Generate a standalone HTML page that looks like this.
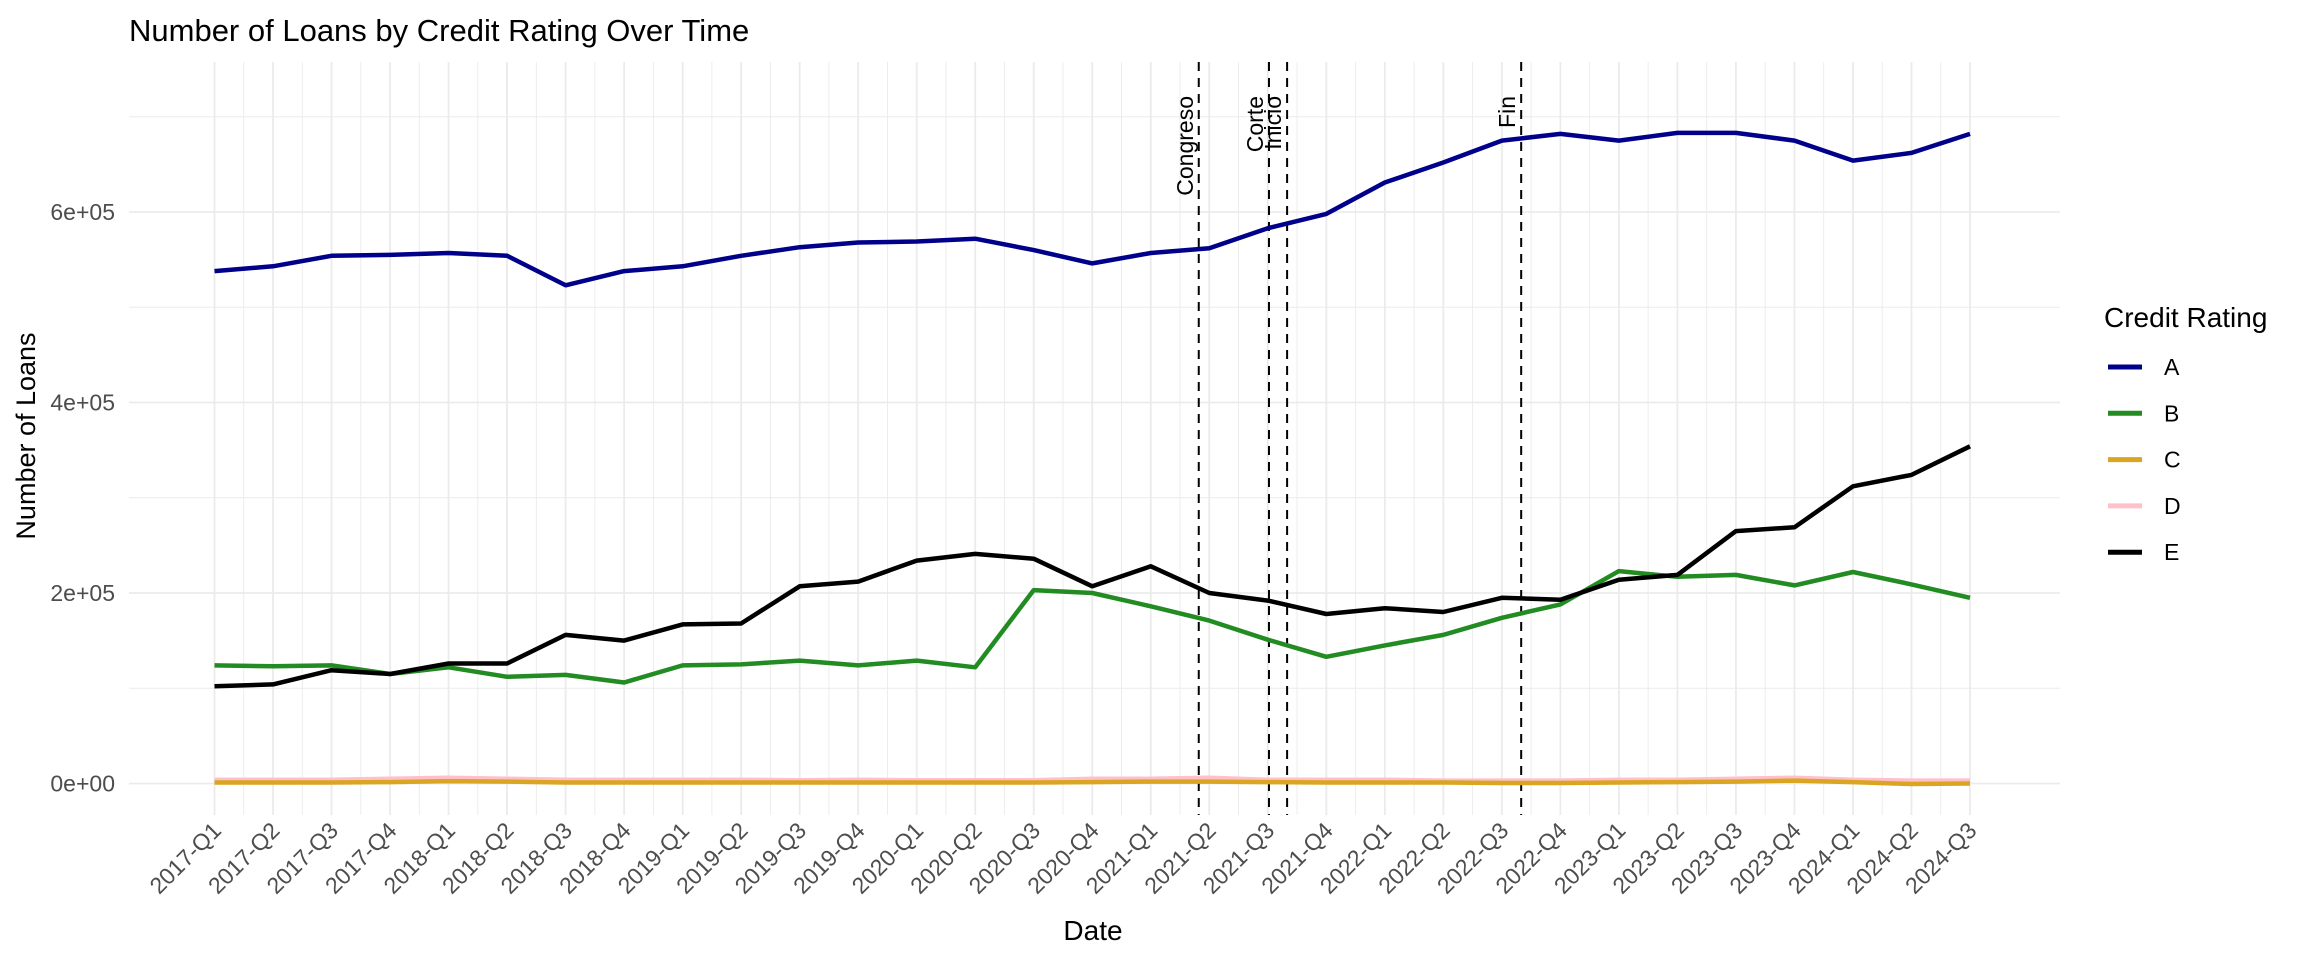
<!DOCTYPE html>
<html><head><meta charset="utf-8"><style>
html,body{margin:0;padding:0;background:#fff}
svg{display:block;font-family:"Liberation Sans",sans-serif}
</style></head><body>
<svg id="chart" width="2304" height="960" viewBox="0 0 2304 960">
<text x="129" y="41" font-size="31" fill="#000">Number of Loans by Credit Rating Over Time</text>
<g id="grid"></g>
<g id="vlines"></g>
<g id="series"></g>
<g id="axes"></g>
<text x="1093" y="940" font-size="28" text-anchor="middle" fill="#000">Date</text>
<text transform="translate(35,436) rotate(-90)" font-size="27" text-anchor="middle" fill="#000">Number of Loans</text>
<g id="legend">
<text x="2104" y="327" font-size="28" fill="#000">Credit Rating</text>
</g>
</svg>
<script>
const categories = ["2017-Q1","2017-Q2","2017-Q3","2017-Q4","2018-Q1","2018-Q2","2018-Q3","2018-Q4","2019-Q1","2019-Q2","2019-Q3","2019-Q4","2020-Q1","2020-Q2","2020-Q3","2020-Q4","2021-Q1","2021-Q2","2021-Q3","2021-Q4","2022-Q1","2022-Q2","2022-Q3","2022-Q4","2023-Q1","2023-Q2","2023-Q3","2023-Q4","2024-Q1","2024-Q2","2024-Q3"];
const seriesA = [538000,543000,554000,555000,557000,554000,523000,538000,543000,554000,563000,568000,569000,572000,560000,546000,557000,562000,583000,598000,631000,652000,675000,682000,675000,683000,683000,675000,654000,662000,682000];
const seriesB = [124000,123000,124000,115000,122000,112000,114000,106000,124000,125000,129000,124000,129000,122000,203000,200000,186000,171000,151000,133000,145000,156000,174000,188000,223000,217000,219000,208000,222000,209000,195000];
const seriesC = [1000,1000,1000,1500,2500,2000,1000,1000,1000,1000,1000,1000,1000,1000,1000,1500,2000,2000,1500,1000,1000,1000,500,500,1000,1500,2000,3000,1500,-500,0];
const seriesD = [4000,4000,4000,5000,6000,5000,4000,4000,4000,4000,3500,4000,3500,3500,3500,5000,5000,6000,4000,4000,4000,3000,3000,3000,4000,4000,5000,6000,4000,3000,3000];
const seriesE = [102000,104000,119000,115000,126000,126000,156000,150000,167000,168000,207000,212000,234000,241000,236000,207000,228000,200000,192000,178000,184000,180000,195000,193000,214000,219000,265000,269000,312000,324000,354000];
const yTicks = [0,200000,400000,600000];
const yTickLabels = ["0e+00","2e+05","4e+05","6e+05"];
const yMinor = [100000,300000,500000,700000];
const eventNames = ["Congreso","Corte","Inicio","Fin"];
const eventPos = [16.82,18.02,18.33,22.33];
const seriesNames = ["A","B","C","D","E"];

const colors = ["#00008B","#228B22","#DAA520","#FFC0CB","#000000"];
const NS = "http://www.w3.org/2000/svg";
const PL = 129, PR = 2060, PT = 62, PB = 815;
function xs(i){ return 214.5 + i * (1970 - 214.5) / 30; }
function ys(v){ return 783.5 - v * 190.5 / 200000; }
function mk(tag, attrs, parent){ const e = document.createElementNS(NS, tag); for (const k in attrs) e.setAttribute(k, attrs[k]); parent.appendChild(e); return e; }

const grid = document.getElementById("grid");
yMinor.forEach(v => {
  const l = mk("line", {x1:PL, x2:PR, y1:ys(v), y2:ys(v), stroke:"#ebebeb", "stroke-width":0.9}, grid);
  
  
});
for (let i = 0; i < categories.length - 1; i++) {
  const l = mk("line", {x1:xs(i+0.5), x2:xs(i+0.5), y1:PT, y2:PB, stroke:"#ebebeb", "stroke-width":0.9}, grid);
  
  
}
yTicks.forEach(v => {
  const l = mk("line", {x1:PL, x2:PR, y1:ys(v), y2:ys(v), stroke:"#ebebeb", "stroke-width":1.8}, grid);
  
  
});
categories.forEach((c, i) => {
  const l = mk("line", {x1:xs(i), x2:xs(i), y1:PT, y2:PB, stroke:"#ebebeb", "stroke-width":1.8}, grid);
  
  
});

const vl = document.getElementById("vlines");
eventPos.forEach((p, k) => {
  const l = mk("line", {x1:xs(p), x2:xs(p), y1:PT, y2:PB, stroke:"#000", "stroke-width":2, "stroke-dasharray":"9,7"}, vl);
  
  
  const t = mk("text", {transform:"translate(" + (xs(p) - 6) + ",96) rotate(-90)", "font-size":23, "text-anchor":"end", fill:"#000"}, vl);
  t.textContent = eventNames[k];
  
  
});

const sg = document.getElementById("series");
const allSeries = [seriesA, seriesB, seriesC, seriesD, seriesE];
const order = [3, 2, 0, 1, 4];
order.forEach(si => {
  const d = allSeries[si].map((v, i) => (i ? "L" : "M") + xs(i).toFixed(1) + "," + ys(v).toFixed(1)).join(" ");
  const p = mk("path", {d:d, fill:"none", stroke:colors[si], "stroke-width":4.5, "stroke-linejoin":"round"}, sg);
  
  
});

const ax = document.getElementById("axes");
yTicks.forEach((v, k) => {
  const t = mk("text", {x:115, y:ys(v) + 8, "font-size":23, "text-anchor":"end", fill:"#4d4d4d"}, ax);
  t.textContent = yTickLabels[k];
  
  
});
categories.forEach((c, i) => {
  const t = mk("text", {transform:"translate(" + (xs(i) + 8) + ",832) rotate(-45)", "font-size":23, "text-anchor":"end", fill:"#4d4d4d"}, ax);
  t.textContent = c;
  
  
});

const lg = document.getElementById("legend");
seriesNames.forEach((n, k) => {
  const y = 367 + k * 46.3;
  const l = mk("line", {x1:2108, x2:2142, y1:y, y2:y, stroke:colors[k], "stroke-width":5}, lg);
  
  
  const t = mk("text", {x:2164, y:y + 8, "font-size":23, fill:"#000"}, lg);
  t.textContent = n;
  
  
});
</script>
</body></html>
